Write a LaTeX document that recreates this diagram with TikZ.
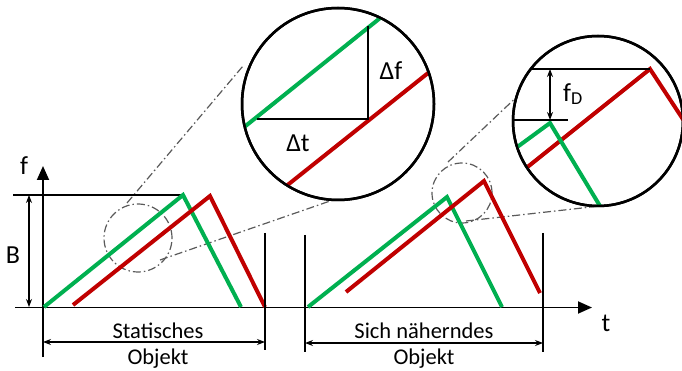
\documentclass[tikz,border=0pt]{standalone}
\usepackage{fontspec}
\setmainfont{Carlito}
\usetikzlibrary{arrows.meta}
\definecolor{grn}{RGB}{0,176,80}
\definecolor{rd}{RGB}{192,0,0}
\definecolor{dd}{RGB}{90,90,90}
\begin{document}
\begin{tikzpicture}[x=1pt,y=-1pt,
  font=\fontsize{22.5}{26}\selectfont,
  gsig/.style={grn,line width=4pt},
  rsig/.style={rd,line width=4pt},
  thin/.style={black,line width=1.4pt},
  axis/.style={black,line width=1.8pt,-{Triangle[length=14pt,width=12pt]}},
  dim/.style={black,line width=1.2pt,{Stealth[length=8pt,width=6pt]}-{Stealth[length=8pt,width=6pt]}},
  dashdot/.style={dd,line width=1.2pt,dash pattern=on 8pt off 3pt on 1.5pt off 3pt},
  lens/.style={circle,draw=black,line width=2.5pt,fill=white,inner sep=0pt},
  lbl/.style={inner sep=0pt},
  big/.style={inner sep=0pt,font=\fontsize{26}{30}\selectfont}]
\useasboundingbox (0,0) rectangle (682,371);

% --- dash-dot helper lines ---
\coordinate (a1) at (127,203); \coordinate (a2) at (243,66);
\coordinate (b1) at (160,260); \coordinate (b2) at (333,200);
\coordinate (c1) at (448,162); \coordinate (c2) at (524,90);
\coordinate (d1) at (466,221); \coordinate (d2) at (600,206);
\draw[dashdot] (a1) -- (a2);
\draw[dashdot] (b1) -- (b2);
\draw[dashdot] (c1) -- (c2);
\draw[dashdot] (d1) -- (d2);
\node[circle,draw=dd,line width=1.2pt,dash pattern=on 8pt off 3pt on 1.5pt off 3pt,minimum size=68pt,inner sep=0pt] (s1) at (138,238) {};
\node[circle,draw=dd,line width=1.2pt,dash pattern=on 8pt off 3pt on 1.5pt off 3pt,minimum size=60pt,inner sep=0pt] (s2) at (462,193) {};

% --- axes ---
\coordinate (fo) at (43,357); \coordinate (ftop) at (43,166);
\coordinate (to) at (15,307.5); \coordinate (tend) at (592,307.5);
\draw[axis] (fo) -- (ftop);
\draw[axis] (to) -- (tend);
\node[big] (flab) at (24,166) {f};
\node[big] (tlab) at (606,323) {t};

% B dimension
\coordinate (bt0) at (13,195); \coordinate (bt1) at (183,195);
\draw[thin] (bt0) -- (bt1);
\coordinate (ba) at (29,195); \coordinate (bb) at (29,307);
\draw[dim] (ba) -- (bb);
\node[big] (B) at (13,255) {B};

% left signals
\coordinate (g1) at (44,307); \coordinate (g2) at (183,195); \coordinate (g3) at (241,307);
\coordinate (r1) at (73,305); \coordinate (r2) at (210,196); \coordinate (r3) at (265,307);
\draw[gsig,line join=miter] (g1) -- (g2) -- (g3);
\draw[rsig,line join=miter] (r1) -- (r2) -- (r3);

% right signals
\coordinate (G1) at (308,307); \coordinate (G2) at (447,197); \coordinate (G3) at (502,307);
\coordinate (R1) at (346,292); \coordinate (R2) at (484,181); \coordinate (R3) at (540,293);
\draw[gsig,line join=miter] (G1) -- (G2) -- (G3);
\draw[rsig,line join=miter] (R1) -- (R2) -- (R3);

% object extents
\coordinate (v1a) at (265,233); \coordinate (v1b) at (265,350);
\draw[thin] (v1a) -- (v1b);
\coordinate (v2a) at (305,235); \coordinate (v2b) at (305,352);
\coordinate (v3a) at (543,233); \coordinate (v3b) at (543,352);
\draw[thin] (v2a) -- (v2b);
\draw[thin] (v3a) -- (v3b);
\coordinate (da) at (43,342); \coordinate (db) at (265,342);
\draw[dim] (da) -- (db);
\coordinate (ea) at (305,343); \coordinate (eb) at (543,343);
\draw[dim] (ea) -- (eb);
\node[lbl] (st) at (158,331) {Statisches};
\node[lbl] (so) at (158,359) {Objekt};
\node[lbl] (nt) at (424,331) {Sich näherndes};
\node[lbl] (no) at (424,359) {Objekt};

% --- left magnifier ---
\node[lens,minimum size=192pt] (L) at (338,104) {};
\begin{scope}
  \clip (338,104) circle[radius=95pt];
  \coordinate (lg1) at (230,138.5); \coordinate (lg2) at (392,8.5);
  \coordinate (lr1) at (270,199); \coordinate (lr2) at (440,63.5);
  \draw[gsig] (lg1) -- (lg2);
  \draw[rsig] (lr1) -- (lr2);
\end{scope}
\coordinate (lv1) at (368,26); \coordinate (lc) at (368,119); \coordinate (lh0) at (257,119);
\draw[black,line width=2pt] (lv1) -- (lc) -- (lh0);
\node[big] (df) at (391,71) {Δf};
\node[big] (dt) at (298,143) {Δt};
\draw[black,line width=2.5pt] (L.center) circle[radius=96pt];

% --- right magnifier ---
\node[lens,minimum size=170pt] (Rz) at (598,121) {};
\begin{scope}
  \clip (598,121) circle[radius=84pt];
  \coordinate (rr1) at (515,177); \coordinate (rr2) at (650,69); \coordinate (rr3) at (690,130);
  \draw[rsig,line join=miter] (rr1) -- (rr2) -- (rr3);
  \coordinate (rg1) at (505,156); \coordinate (rg2) at (550,123); \coordinate (rg3) at (606,216);
  \draw[gsig,line join=miter] (rg1) -- (rg2) -- (rg3);
  \coordinate (rt0) at (510,69);
  \draw[thin] (rt0) -- (rr2);
  \coordinate (rl0) at (505,120); \coordinate (rl1) at (568,120);
  \draw[thin] (rl0) -- (rl1);
\end{scope}
\coordinate (fa) at (550,69); \coordinate (fb) at (550,120);
\draw[dim] (fa) -- (fb);
\node[big] (fD) at (573,94) {f\textsubscript{D}};
\draw[black,line width=2.5pt] (Rz.center) circle[radius=85pt];
\end{tikzpicture}
\end{document}
